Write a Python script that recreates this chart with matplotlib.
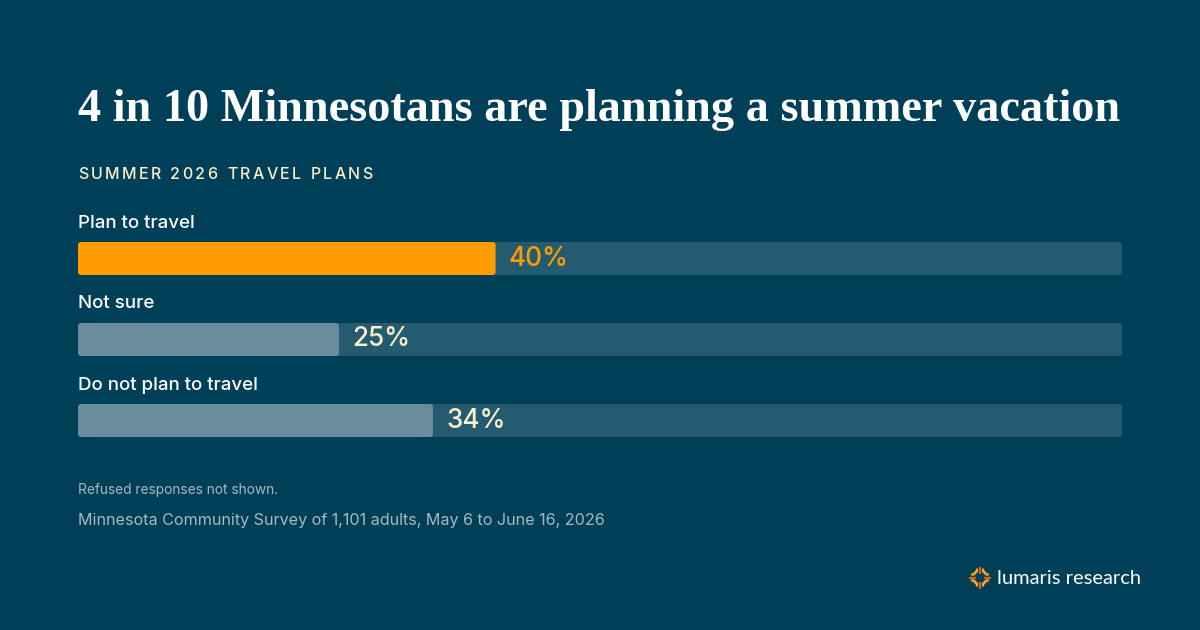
import matplotlib
matplotlib.use('Agg')
import matplotlib.pyplot as plt
from matplotlib.patches import FancyBboxPatch
import numpy as np

# data
categories = ['Plan to travel', 'Not sure', 'Do not plan to travel']
values = [40, 25, 34]
title = '4 in 10 Minnesotans are planning a summer vacation'
subtitle = 'SUMMER 2026 TRAVEL PLANS'
footnote = 'Refused responses not shown.'
source = 'Minnesota Community Survey of 1,101 adults, May 6 to June 16, 2026'
brand = 'lumaris research'

BG = '#003f58'
TRACK = '#245b70'
ORANGE = '#ff9d00'
GREY = '#6a8d9b'
CREAM = '#fbefc9'
FOOT = '#a6b9c2'

W, H = 1200, 630
fig = plt.figure(figsize=(12, 6.3), dpi=100, facecolor=BG)


def px(x, y):
    return x / W, 1 - y / H


# title, shrink to fit the 78..1122 band
t = fig.text(*px(78, 121), title, color='white', fontsize=36, fontweight='bold',
             family='Liberation Serif', va='baseline', ha='left')
fig.canvas.draw()
r = fig.canvas.get_renderer()
w = t.get_window_extent(r).width
t.set_fontsize(36 * 1044 / w)


def tracked(x, y, s, spacing, **kw):
    # letter spaced text, one char at a time
    fig.canvas.draw()
    rr = fig.canvas.get_renderer()
    cx = x
    for ch in s:
        tt = fig.text(*px(cx, y), ch, va='baseline', ha='left', **kw)
        if ch == ' ':
            cw = tt.get_fontsize() * 0.28 / 0.72
        else:
            cw = tt.get_window_extent(rr).width
        cx += cw + spacing


tracked(78, 179, subtitle, 2.4, color=CREAM, fontsize=11.5, family='Inter',
        fontweight='medium')

# bars
ax = fig.add_axes([78 / W, 1 - 450 / H, 1044 / W, 250 / H])
ax.patch.set_alpha(0)
ypos = np.arange(len(categories))
bh = 33 / 81
tracks = ax.barh(ypos, [100] * len(values), height=bh, color=TRACK)
colors = [ORANGE] + [GREY] * (len(values) - 1)
fills = ax.barh(ypos, values, height=bh, color=colors)
ax.set_xlim(0, 100)
ax.set_ylim((450 - 258.5) / 81, (200 - 258.5) / 81)
ax.axis('off')

# swap plain bars for slightly rounded ones
for b in list(tracks) + list(fills):
    x0, y0 = b.get_x(), b.get_y()
    rb = FancyBboxPatch((x0, y0), b.get_width(), b.get_height(),
                        boxstyle='round,pad=0,rounding_size=0.3',
                        mutation_aspect=(1044 / 100) / 81,
                        facecolor=b.get_facecolor(), edgecolor='none',
                        zorder=b.get_zorder())
    b.remove()
    ax.add_patch(rb)

for i, (c, v) in enumerate(zip(categories, values)):
    ax.text(0, i - 35.5 / 81, c, color='white', fontsize=13.5, family='Inter',
            fontweight='medium', va='center', ha='left')
    ax.annotate(f'{v}%', (v, i), xytext=(9.5, 0), textcoords='offset points',
                color=ORANGE if i == 0 else CREAM, fontsize=18.8, family='Inter',
                fontweight='medium', va='center', ha='left')

fig.text(*px(78, 494), footnote, color=FOOT, fontsize=9.9, family='Inter',
         va='baseline', ha='left')
fig.text(*px(78, 525), source, color=FOOT, fontsize=11.6, family='Inter',
         va='baseline', ha='left')

# logo
lx = fig.add_axes([955 / W, 1 - 600 / H, 50 / W, 45 / H])
lx.set_xlim(-25, 25)
lx.set_ylim(-22.5, 22.5)
lx.set_aspect('equal')
lx.axis('off')
for ang in [0, 90, 180, 270]:
    rot = np.array([[np.cos(np.radians(ang)), -np.sin(np.radians(ang))],
                    [np.sin(np.radians(ang)), np.cos(np.radians(ang))]])
    for off, r0, r1, col in [(0, 4, 11, '#e35d1a'), (-3, 5, 9, '#ffa51f'), (3, 5, 9, '#ffa51f')]:
        if off:
            pts = np.array([[off * 2.2, r0 - 1.5], [off, r0 + 1], [off, r1]])
        else:
            pts = np.array([[0, r0], [0, r1]])
        p = pts @ rot.T
        lx.plot(p[:, 0], p[:, 1], color=col, lw=1.6, solid_capstyle='butt')
fig.text(*px(997, 584), brand, color='white', fontsize=14.5, family='Lato',
         fontweight='normal', va='baseline', ha='left')

fig.savefig('out.png', dpi=100, facecolor=BG)
